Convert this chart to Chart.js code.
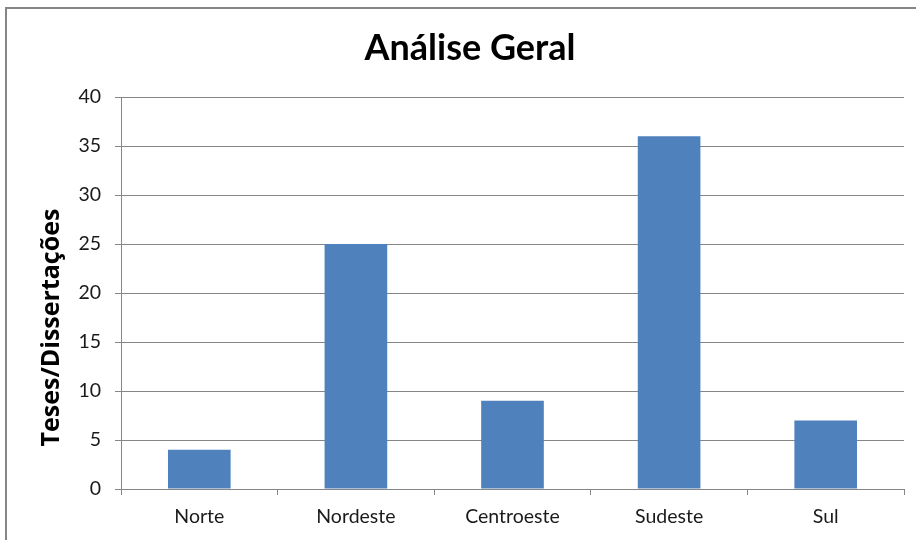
<!DOCTYPE html>
<html>
<head>
<meta charset="utf-8">
<script src="https://cdn.jsdelivr.net/npm/chart.js@4/dist/chart.umd.min.js"></script>
<style>
  html, body { margin: 0; padding: 0; background: #fff; }
  #wrap { position: relative; width: 916px; height: 540px; overflow: hidden; }
</style>
</head>
<body>
<div id="wrap"><canvas id="chart" width="916" height="540"></canvas></div>
<script>
// data
const regions = ['Norte', 'Nordeste', 'Centroeste', 'Sudeste', 'Sul'];
const counts  = [4, 25, 9, 36, 7];
const chartTitle = 'Análise Geral';
const yTitle = 'Teses/Dissertações';

const FONT = "Lato, 'Open Sans', sans-serif";
const GRID = '#868686';

// outer frame, chart title (centred on the whole frame, which runs off the right edge)
// and y axis title (a bit below the plot centre, like the original)
const framePlugin = {
  id: 'frame',
  beforeDraw(chart) {
    const c = chart.ctx;
    c.save();
    c.strokeStyle = GRID;
    c.lineWidth = 2;
    c.strokeRect(6, 8, 930, 560);
    c.restore();
  },
  afterDraw(chart) {
    const c = chart.ctx, a = chart.chartArea;
    c.save();
    c.font = `bold 36px ${FONT}`;
    c.fillStyle = '#000';
    c.textAlign = 'center';
    c.textBaseline = 'middle';
    c.fillText(chartTitle, 470, 48);

    c.translate(52, a.top + (a.bottom - a.top) * 0.588);
    c.rotate(-Math.PI / 2);
    c.font = "bold 25px 'Open Sans', sans-serif";
    c.fillText(yTitle, 0, 0);
    c.restore();
  }
};

new Chart(document.getElementById('chart'), {
  type: 'bar',
  data: {
    labels: regions,
    datasets: [{
      data: counts,
      backgroundColor: '#4F81BD',
      barPercentage: 0.4,
      categoryPercentage: 1.0,
    }]
  },
  options: {
    responsive: false,
    animation: false,
    layout: { padding: { left: 0, right: 12, top: 97, bottom: 0 } },
    plugins: {
      legend: { display: false },
      tooltip: { enabled: false },
      title: { display: false }
    },
    scales: {
      x: {
        grid: { display: true, drawOnChartArea: false, color: GRID, tickLength: 6, offset: true },
        border: { color: GRID },
        ticks: { color: '#1a1a1a', font: { family: FONT, size: 19.5 }, padding: 10 },
        afterFit(s) { s.height = 51; }
      },
      y: {
        min: 0, max: 40,
        grid: { color: GRID, tickLength: 6 },
        border: { color: GRID },
        ticks: { stepSize: 5, color: '#1a1a1a', font: { family: FONT, size: 19.5 }, padding: 14 },
        afterFit(s) { s.width = 121; }
      }
    }
  },
  plugins: [framePlugin]
});
</script>
</body>
</html>
